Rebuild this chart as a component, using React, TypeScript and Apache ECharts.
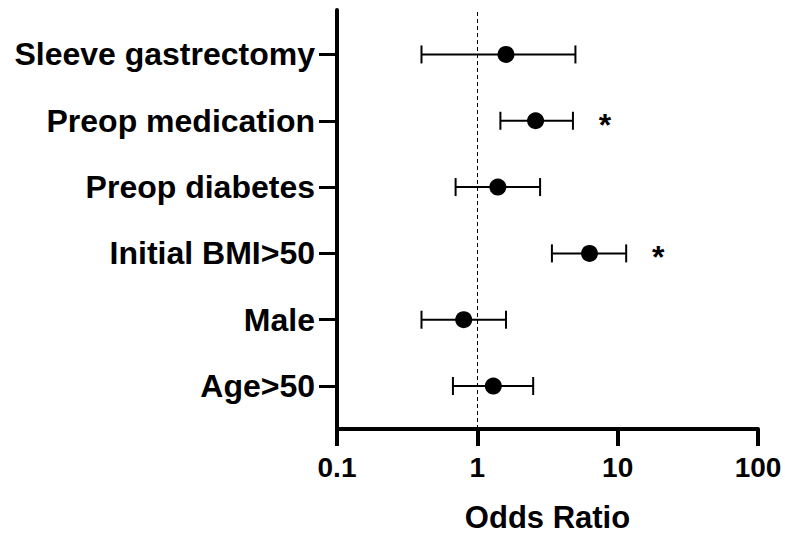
import React, { useEffect, useRef } from "react";
import * as echarts from "echarts";

// bottom to top
const categories = ["Age>50", "Male", "Initial BMI>50", "Preop diabetes", "Preop medication", "Sleeve gastrectomy"];
const oddsRatio = [1.3, 0.8, 6.3, 1.4, 2.6, 1.6];
const ciLower = [0.67, 0.4, 3.4, 0.7, 1.46, 0.4];
const ciUpper = [2.5, 1.6, 11.5, 2.8, 4.8, 5.0];
const significance = ["", "", "*", "", "*", ""];
const xTickLabels = ["0.1", "1", "10", "100"];

const FONT = "'Liberation Sans', Arial, Helvetica, sans-serif";

export default function App() {
  const ref = useRef<HTMLDivElement>(null);
  useEffect(() => {
    if (!ref.current) return;
    const chart = echarts.init(ref.current, undefined, { renderer: "svg" });
    const idx = categories.map((_, i) => i);
    const errData = idx.map((i) => [ciLower[i], ciUpper[i], i, significance[i]]);
    const pointData = idx.map((i) => [oddsRatio[i], i]);
    chart.setOption({
      animation: false,
      backgroundColor: "#fff",
      grid: { left: 337, right: 27, top: 10, bottom: 106, containLabel: false, outerBoundsMode: "none" },
      xAxis: {
        type: "log",
        logBase: 10,
        min: 0.1,
        max: 100,
        name: "Odds Ratio",
        nameLocation: "middle",
        nameGap: 75,
        nameTextStyle: { fontFamily: FONT, fontSize: 31, lineHeight: 26, fontWeight: "bold", color: "#000" },
        axisLine: { show: true, onZero: false, lineStyle: { color: "#000", width: 4 } },
        axisTick: { show: true, length: 17, lineStyle: { color: "#000", width: 4 } },
        axisLabel: {
          margin: 24,
          fontFamily: FONT,
          fontSize: 28,
          fontWeight: "bold",
          color: "#000",
          formatter: (v: number) => {
            const k = Math.round(Math.log10(v)) + 1;
            return xTickLabels[k] ?? String(v);
          },
        },
        splitLine: { show: false },
        minorTick: { show: false },
      },
      yAxis: {
        type: "value",
        min: -0.648,
        max: 5.67,
        axisLine: { show: true, onZero: false, lineStyle: { color: "#000", width: 4 } },
        axisTick: { show: true, length: 18, customValues: idx, lineStyle: { color: "#000", width: 3 } },
        axisLabel: {
          customValues: idx,
          margin: 22,
          fontFamily: FONT,
          fontSize: 32,
          fontWeight: "bold",
          color: "#000",
          formatter: (v: number) => categories[Math.round(v)] ?? "",
        },
        splitLine: { show: false },
      },
      series: [
        {
          type: "custom",
          data: errData,
          encode: { x: [0, 1], y: 2 },
          z: 2,
          renderItem: (params: any, api: any) => {
            const lo = api.value(0);
            const hi = api.value(1);
            const y = api.value(2);
            const p0 = api.coord([lo, y]);
            const p1 = api.coord([hi, y]);
            const cap = 9;
            const style = { stroke: "#000", lineWidth: 2 };
            const children: any[] = [
              { type: "line", shape: { x1: p0[0], y1: p0[1], x2: p1[0], y2: p1[1] }, style },
              { type: "line", shape: { x1: p0[0], y1: p0[1] - cap, x2: p0[0], y2: p0[1] + cap }, style },
              { type: "line", shape: { x1: p1[0], y1: p1[1] - cap, x2: p1[0], y2: p1[1] + cap }, style },
            ];
            const sig = significance[params.dataIndex];
            if (sig) {
              children.push({
                type: "text",
                style: {
                  text: sig,
                  x: p1[0] + 32,
                  y: p1[1] + 4,
                  align: "center",
                  verticalAlign: "middle",
                  fontFamily: FONT,
                  fontSize: 32,
                  fontWeight: "bold",
                  fill: "#000",
                },
              });
            }
            return { type: "group", children };
          },
        },
        {
          type: "scatter",
          data: pointData,
          symbol: "circle",
          symbolSize: 17,
          z: 3,
          itemStyle: { color: "#000", opacity: 1 },
          markLine: {
            silent: true,
            symbol: ["none", "none"],
            label: { show: false },
            lineStyle: { color: "#000", width: 1, type: [4, 3], opacity: 1 },
            data: [{ xAxis: 1 }],
          },
        },
      ],
    });
    return () => chart.dispose();
  }, []);
  return (
    <div
      ref={ref}
      style={{ position: "fixed", left: 0, top: 0, width: 785, height: 535, background: "#fff" }}
    />
  );
}
